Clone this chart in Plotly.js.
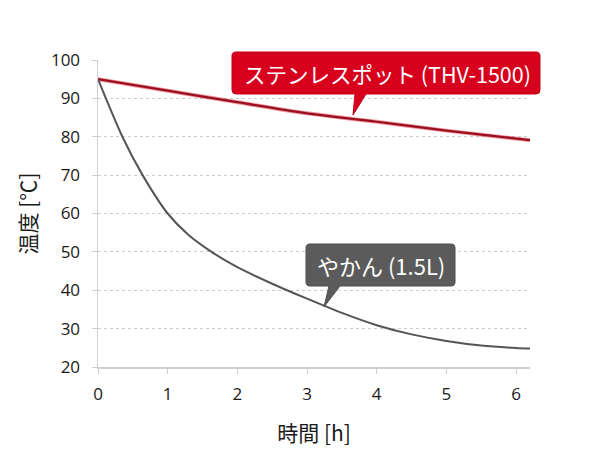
<!DOCTYPE html>
<html>
<head>
<meta charset="utf-8">
<script src="https://cdn.plot.ly/plotly-3.0.1.min.js"></script>
<style>
  html, body { margin: 0; padding: 0; background: #fff; }
  #chart { width: 590px; height: 472px; }
</style>
</head>
<body>
<div id="chart"></div>
<script>
// hours since boiling
const potHours = [0, 1, 2, 3, 4, 5, 6.2];
const potTemp = [95, 92, 89, 86.1, 83.9, 81.6, 79.1];

const kettleHours = [0, 0.35, 0.64, 1, 1.3, 1.63, 2, 2.5, 3, 3.5, 4, 4.5, 5, 5.5, 6, 6.2];
const kettleTemp = [95, 80, 70, 60, 54.4, 50, 46, 41.7, 37.8, 34.1, 30.9, 28.5, 26.8, 25.6, 24.95, 24.8];

const xTicks = [0, 1, 2, 3, 4, 5, 6];
const yTicks = [20, 30, 40, 50, 60, 70, 80, 90, 100];

const potLabel = 'ステンレスポット (THV-1500)';
const kettleLabel = 'やかん (1.5L)';

const FONT = '"Open Sans", "Noto Sans CJK JP", sans-serif';
const JP = '"Noto Sans CJK JP", sans-serif';

// plot area in pixels: left 98, right 530, top 60, bottom 367
const L = 98, R = 530, T = 60, B = 367;
const px = x => (x - L) / (R - L);
const py = y => (B - y) / (B - T);

// speech bubble path (paper coords) from pixel box + tail
function bubble(x0, y0, x1, y1, tailA, tailB, tipX, tipY) {
  const r = 4;
  const p = (x, y) => px(x).toFixed(4) + ',' + py(y).toFixed(4);
  return 'M' + p(x0 + r, y0) +
    ' L' + p(x1 - r, y0) + ' Q' + p(x1, y0) + ' ' + p(x1, y0 + r) +
    ' L' + p(x1, y1 - r) + ' Q' + p(x1, y1) + ' ' + p(x1 - r, y1) +
    ' L' + p(tailB, y1) + ' L' + p(tipX, tipY) + ' L' + p(tailA, y1) +
    ' L' + p(x0 + r, y1) + ' Q' + p(x0, y1) + ' ' + p(x0, y1 - r) +
    ' L' + p(x0, y0 + r) + ' Q' + p(x0, y0) + ' ' + p(x0 + r, y0) + ' Z';
}

const traces = [
  {x: potHours, y: potTemp, mode: 'lines', line: {color: 'rgba(225,25,45,0.45)', width: 4, shape: 'spline'}, hoverinfo: 'skip'},
  {x: potHours, y: potTemp, mode: 'lines', line: {color: '#991020', width: 2.2, shape: 'spline'}},
  {x: kettleHours, y: kettleTemp, mode: 'lines', line: {color: '#555555', width: 2, shape: 'spline', smoothing: 0.8}}
];

const layout = {
  width: 590, height: 472,
  margin: {l: L, r: 590 - R, t: T, b: 472 - B},
  paper_bgcolor: '#fff', plot_bgcolor: '#fff',
  showlegend: false,
  font: {family: FONT, color: '#1a1a1a', size: 17},
  xaxis: {
    range: [0, 6.2], tickvals: xTicks, showgrid: false, zeroline: false,
    showline: true, linecolor: '#d0d0d0', linewidth: 1.5,
    ticks: 'outside', ticklen: 5, tickcolor: '#d0d0d0', ticklabelstandoff: 6,
    tickfont: {size: 17, color: '#1a1a1a'},
    title: {text: '時間 [h]', font: {family: JP, size: 21, color: '#1a1a1a'}, standoff: 22}
  },
  yaxis: {
    range: [20, 100], tickvals: yTicks, zeroline: false,
    showgrid: true, gridcolor: '#cccccc', griddash: 'dot', gridwidth: 1,
    showline: true, linecolor: '#d0d0d0', linewidth: 1.5,
    ticks: 'outside', ticklen: 5, tickcolor: '#d0d0d0', ticklabelstandoff: 8,
    tickfont: {size: 17, color: '#1a1a1a'},
    title: {text: '温度 [℃]', font: {family: JP, size: 21, color: '#1a1a1a'}, standoff: 8}
  },
  shapes: [
    {type: 'path', xref: 'paper', yref: 'paper', path: bubble(232, 52, 540, 94, 355, 366, 353, 115),
     fillcolor: '#d7001d', line: {color: '#c00018', width: 1}},
    {type: 'path', xref: 'paper', yref: 'paper', path: bubble(306, 244, 455, 286, 329, 340, 324, 307),
     fillcolor: '#5b5b5b', line: {color: '#4f4f4f', width: 1}}
  ],
  annotations: [
    {xref: 'paper', yref: 'paper', x: px(387), y: py(73), text: potLabel, showarrow: false,
     font: {family: JP, size: 21.5, color: '#fff'}, xanchor: 'center', yanchor: 'middle'},
    {xref: 'paper', yref: 'paper', x: px(381), y: py(265), text: kettleLabel, showarrow: false,
     font: {family: JP, size: 22, color: '#fff'}, xanchor: 'center', yanchor: 'middle'}
  ]
};

Plotly.newPlot('chart', traces, layout, {displayModeBar: false, staticPlot: true});
</script>
</body>
</html>
